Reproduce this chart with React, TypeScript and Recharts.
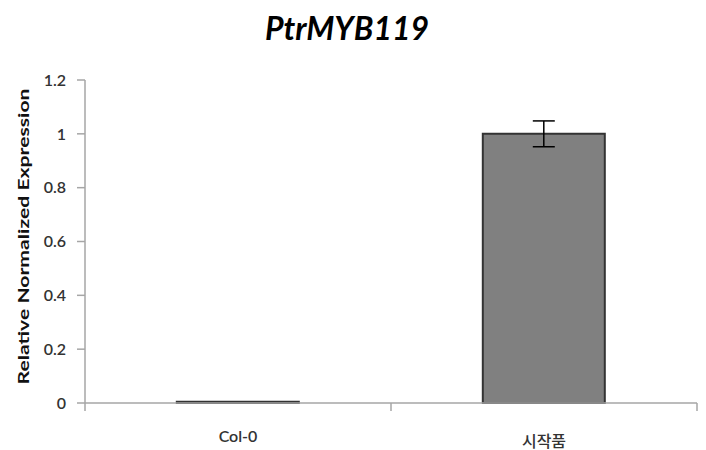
import React from "react";
import { BarChart, Bar, XAxis, YAxis, ErrorBar } from "recharts";

const categories = ["Col-0", "시작품"];
const expression = [0.005, 1.0];
const errors = [0, 0.048];
const yTicks = [0, 0.2, 0.4, 0.6, 0.8, 1, 1.2];

const data = categories.map((name, i) => ({
  name,
  value: expression[i],
  err: errors[i],
}));

const W = 706;
const H = 450;
const margin = { top: 80, right: 9, left: 40, bottom: 17 };
const yAxisWidth = 45;
const plotWidth = W - margin.left - margin.right - yAxisWidth;
const band = plotWidth / categories.length;

const font = "Lato, 'Noto Sans CJK KR', sans-serif";

function CategoryTick(props: any) {
  const { x, y, payload, index } = props;
  const left = x - band / 2;
  const korean = /[\uac00-\ud7a3]/.test(String(payload.value));
  return (
    <g>
      <line x1={left} y1={y - 8} x2={left} y2={y} stroke="#a6a6a6" strokeWidth={1.5} />
      {index === categories.length - 1 && (
        <line x1={left + band} y1={y - 8} x2={left + band} y2={y} stroke="#a6a6a6" strokeWidth={1.5} />
      )}
      <text
        x={x}
        y={y + 31 + (korean ? 5 : 0)}
        textAnchor="middle"
        fontSize={16}
        fontWeight={korean ? 500 : 600}
        fill="#333"
        fontFamily={font}
      >
        {payload.value}
      </text>
    </g>
  );
}

function YLabel(props: any) {
  const cy = margin.top + (H - margin.top - 47) / 2 - 5;
  return (
    <text
      x={29}
      y={cy}
      transform={`rotate(-90, 29, ${cy})`}
      textAnchor="middle"
      fontSize={15}
      fontWeight="bold"
      fill="#111"
      fontFamily={font}
      textLength={296}
      lengthAdjust="spacingAndGlyphs"
    >
      Relative Normalized Expression
    </text>
  );
}

export default function App() {
  return (
    <div
      style={{
        position: "absolute",
        left: 0,
        top: 0,
        width: W,
        height: H,
        background: "#fff",
        fontFamily: font,
      }}
    >
      <div
        style={{
          position: "absolute",
          top: 8,
          left: 0,
          width: W - 12,
          textAlign: "center",
          fontSize: 32,
          fontWeight: "bold",
          fontStyle: "italic",
          color: "#000",
        }}
      >
        PtrMYB119
      </div>
      <BarChart width={W} height={H} data={data} margin={margin} barCategoryGap="30%">
        <XAxis
          dataKey="name"
          height={30}
          axisLine={{ stroke: "#a6a6a6", strokeWidth: 1.5 }}
          tickLine={false}
          tick={<CategoryTick />}
          interval={0}
        />
        <YAxis
          width={yAxisWidth}
          domain={[0, 1.2]}
          ticks={yTicks}
          interval={0}
          tickSize={8}
          tickMargin={11}
          axisLine={{ stroke: "#a6a6a6", strokeWidth: 1.5 }}
          tickLine={{ stroke: "#a6a6a6", strokeWidth: 1.5 }}
          tick={{ fontSize: 16, fontWeight: 600, fill: "#333", fontFamily: font }}
          label={<YLabel />}
        />
        <Bar
          dataKey="value"
          fill="#808080"
          stroke="#333"
          strokeWidth={2}
          isAnimationActive={false}
        >
          <ErrorBar dataKey="err" width={11} stroke="#000" strokeWidth={1.5} />
        </Bar>
      </BarChart>
    </div>
  );
}
